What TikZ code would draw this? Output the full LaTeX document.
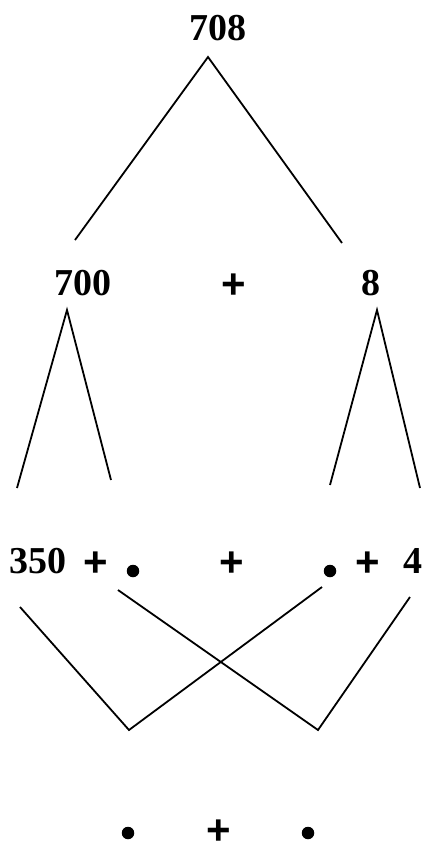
\documentclass[tikz,border=0pt]{standalone}
\usepackage{fontspec}
\setmainfont{Liberation Serif}
\newfontfamily\plusfont{Liberation Sans}
\begin{document}
\begin{tikzpicture}[x=1pt,y=-1pt,
  num/.style={inner sep=0pt,anchor=base,font=\fontsize{38}{38}\selectfont\bfseries},
  pl/.style={inner sep=0pt,anchor=base,font=\fontsize{42}{42}\selectfont\plusfont\bfseries},
  ln/.style={line width=1.8pt},
  dot/.style={circle,fill=black,inner sep=0pt,minimum size=12.5pt}]
\useasboundingbox (0,0) rectangle (424,852);
% row 1
\node[num] (n708) at (218,40) {708};
\coordinate (a1) at (208,57);
\coordinate (a1l) at (75,240);
\coordinate (a1r) at (342,243);
\draw[ln] (a1l) -- (a1) -- (a1r);
% row 2
\node[num] (n700) at (83,295) {700};
\node[pl] (p2) at (234,298) {+};
\node[num] (n8) at (371,295) {8};
\coordinate (a2) at (67,310);
\coordinate (a2l) at (17,488);
\coordinate (a2r) at (111,480);
\draw[ln] (a2l) -- (a2) -- (a2r);
\coordinate (a3) at (377,310);
\coordinate (a3l) at (330,485);
\coordinate (a3r) at (420,488);
\draw[ln] (a3l) -- (a3) -- (a3r);
% row 3
\node[num] (n350) at (38,573) {350};
\node[pl] (p3a) at (96,576) {+};
\node[dot] (d3a) at (133,571) {};
\node[pl] (p3b) at (232,576) {+};
\node[dot] (d3b) at (330,571) {};
\node[pl] (p3c) at (368,576) {+};
\node[num] (n4) at (413,573) {4};
\coordinate (b1) at (20,607);
\coordinate (b2) at (118,590);
\coordinate (b3) at (322,587);
\coordinate (b4) at (410,597);
\coordinate (v1) at (129,730);
\coordinate (v2) at (318,730);
\draw[ln] (b1) -- (v1) -- (b3);
\draw[ln] (b2) -- (v2) -- (b4);
% row 4
\node[dot] (d4a) at (128,833) {};
\node[pl] (p4) at (219,844) {+};
\node[dot] (d4b) at (308,833) {};
\end{tikzpicture}
\end{document}
